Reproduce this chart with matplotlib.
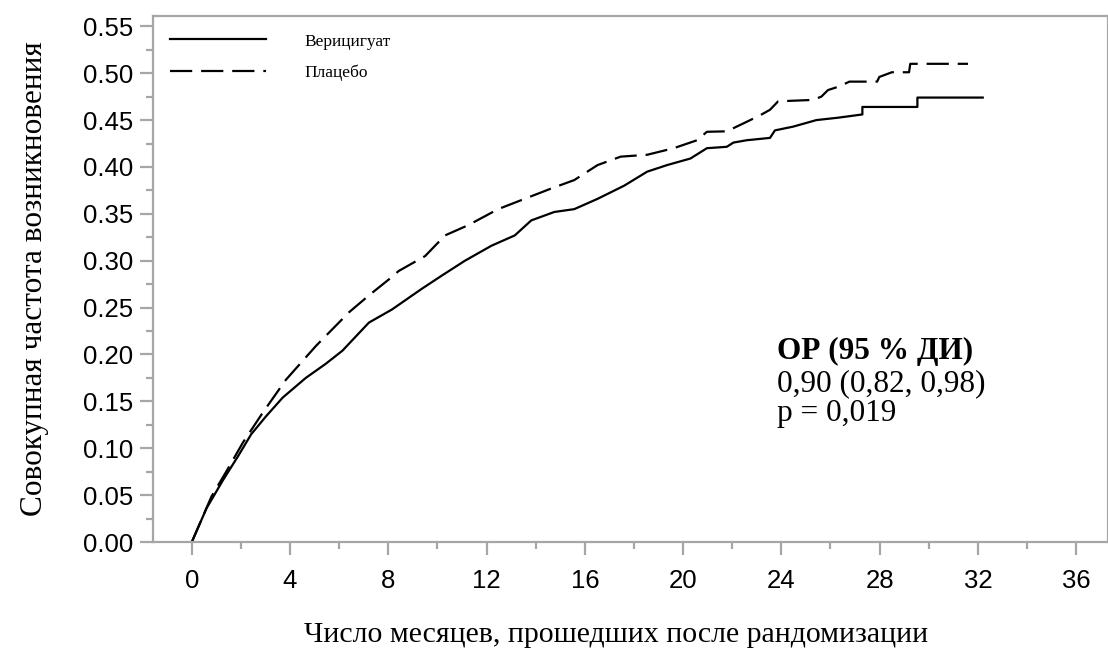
import matplotlib
matplotlib.use('Agg')
import matplotlib.pyplot as plt
from matplotlib.ticker import MultipleLocator, FormatStrFormatter

# values
months_veri = [0.0, 0.6, 1.27, 1.87, 2.42, 3.02, 3.70, 4.64, 5.45, 6.13, 7.21, 8.15,
               9.36, 10.17, 11.12, 12.20, 13.15, 13.82, 14.76, 15.57, 16.52, 17.60,
               18.54, 19.35, 20.30, 20.97, 21.78, 22.05, 22.59, 23.54, 23.74, 24.48,
               25.43, 26.30, 27.30, 27.30, 29.54, 29.54, 32.2]
rate_veri = [0.000, 0.036, 0.066, 0.091, 0.115, 0.134, 0.154, 0.175, 0.190, 0.204, 0.234, 0.248,
             0.270, 0.284, 0.300, 0.316, 0.327, 0.343, 0.352, 0.355, 0.366, 0.380,
             0.395, 0.402, 0.409, 0.420, 0.4215, 0.426, 0.4285, 0.431, 0.439, 0.443,
             0.450, 0.4525, 0.456, 0.464, 0.464, 0.474, 0.474]

months_plac = [0.0, 0.80, 1.40, 2.08, 2.89, 3.83, 5.05, 6.40, 7.21, 8.02, 8.42, 9.50,
               10.31, 11.26, 12.47, 13.55, 14.63, 15.57, 16.52, 17.46, 18.54, 19.62,
               20.57, 20.97, 21.78, 22.46, 23.13, 23.54, 23.87, 25.29, 25.63, 25.90,
               26.37, 26.77, 27.90, 27.99, 28.50, 29.20, 29.25, 31.6]
rate_plac = [0.000, 0.0485, 0.075, 0.106, 0.138, 0.173, 0.209, 0.245, 0.263, 0.280, 0.289, 0.305,
             0.327, 0.338, 0.355, 0.366, 0.377, 0.386, 0.402, 0.411, 0.413, 0.420,
             0.4285, 0.4375, 0.438, 0.4465, 0.455, 0.461, 0.470, 0.4715, 0.475, 0.482,
             0.486, 0.491, 0.491, 0.496, 0.501, 0.501, 0.510, 0.510]

series_labels = ['Верицигуат', 'Плацебо']
hr_lines = ['ОР (95 % ДИ)', '0,90 (0,82, 0,98)', 'p = 0,019']

serif = 'Liberation Serif'
sans = 'Liberation Sans'
grey = '#a6a6a6'

fig = plt.figure(figsize=(11.08, 6.5), dpi=100)
ax = fig.add_axes([153 / 1108, 1 - 542 / 650, 1 - 153 / 1108, (542 - 16) / 650])

ax.plot(months_veri, rate_veri, color='black', lw=1.6, label=series_labels[0])
ax.plot(months_plac, rate_plac, color='black', lw=1.6, dashes=(10, 4), label=series_labels[1])

ax.set_xlim(-1.58, 37.3)
ax.set_ylim(0, 0.561)
ax.xaxis.set_major_locator(MultipleLocator(4))
ax.xaxis.set_minor_locator(MultipleLocator(2))
ax.yaxis.set_major_locator(MultipleLocator(0.05))
ax.yaxis.set_minor_locator(MultipleLocator(0.025))
ax.yaxis.set_major_formatter(FormatStrFormatter('%.2f'))

for s in ['top', 'right', 'left', 'bottom']:
    ax.spines[s].set_color(grey)
    ax.spines[s].set_linewidth(1.6)
ax.tick_params(which='major', length=9.5, width=1.6, color=grey, labelsize=18.5, pad=5)
ax.tick_params(which='minor', length=5, width=1.6, color=grey)
ax.tick_params(axis='x', which='major', pad=10)
for lab in ax.get_xticklabels() + ax.get_yticklabels():
    lab.set_family(sans)

ax.set_xlabel('Число месяцев, прошедших после рандомизации', family=serif, fontsize=21.5, va='center')
ax.set_ylabel('Совокупная частота возникновения', family=serif, fontsize=22.5, va='center')
ax.xaxis.set_label_coords(0.485, -0.176)
ax.yaxis.set_label_coords(-0.124, 0.5)

ax.legend(loc='upper left', frameon=False, prop={'family': serif, 'size': 12.5},
          handlelength=5.5, handletextpad=2.2, labelspacing=0.85,
          bbox_to_anchor=(0.0, 1.0), borderaxespad=0.6)

hr_x = 777 / 1108
fig.text(hr_x, 1 - 359 / 650, hr_lines[0], family=serif, fontsize=22.5, fontweight='bold', va='baseline')
fig.text(hr_x, 1 - 391 / 650, hr_lines[1], family=serif, fontsize=22.5, va='baseline')
fig.text(hr_x, 1 - 421 / 650, hr_lines[2], family=serif, fontsize=22.5, va='baseline')

fig.savefig('out.png', dpi=100)
